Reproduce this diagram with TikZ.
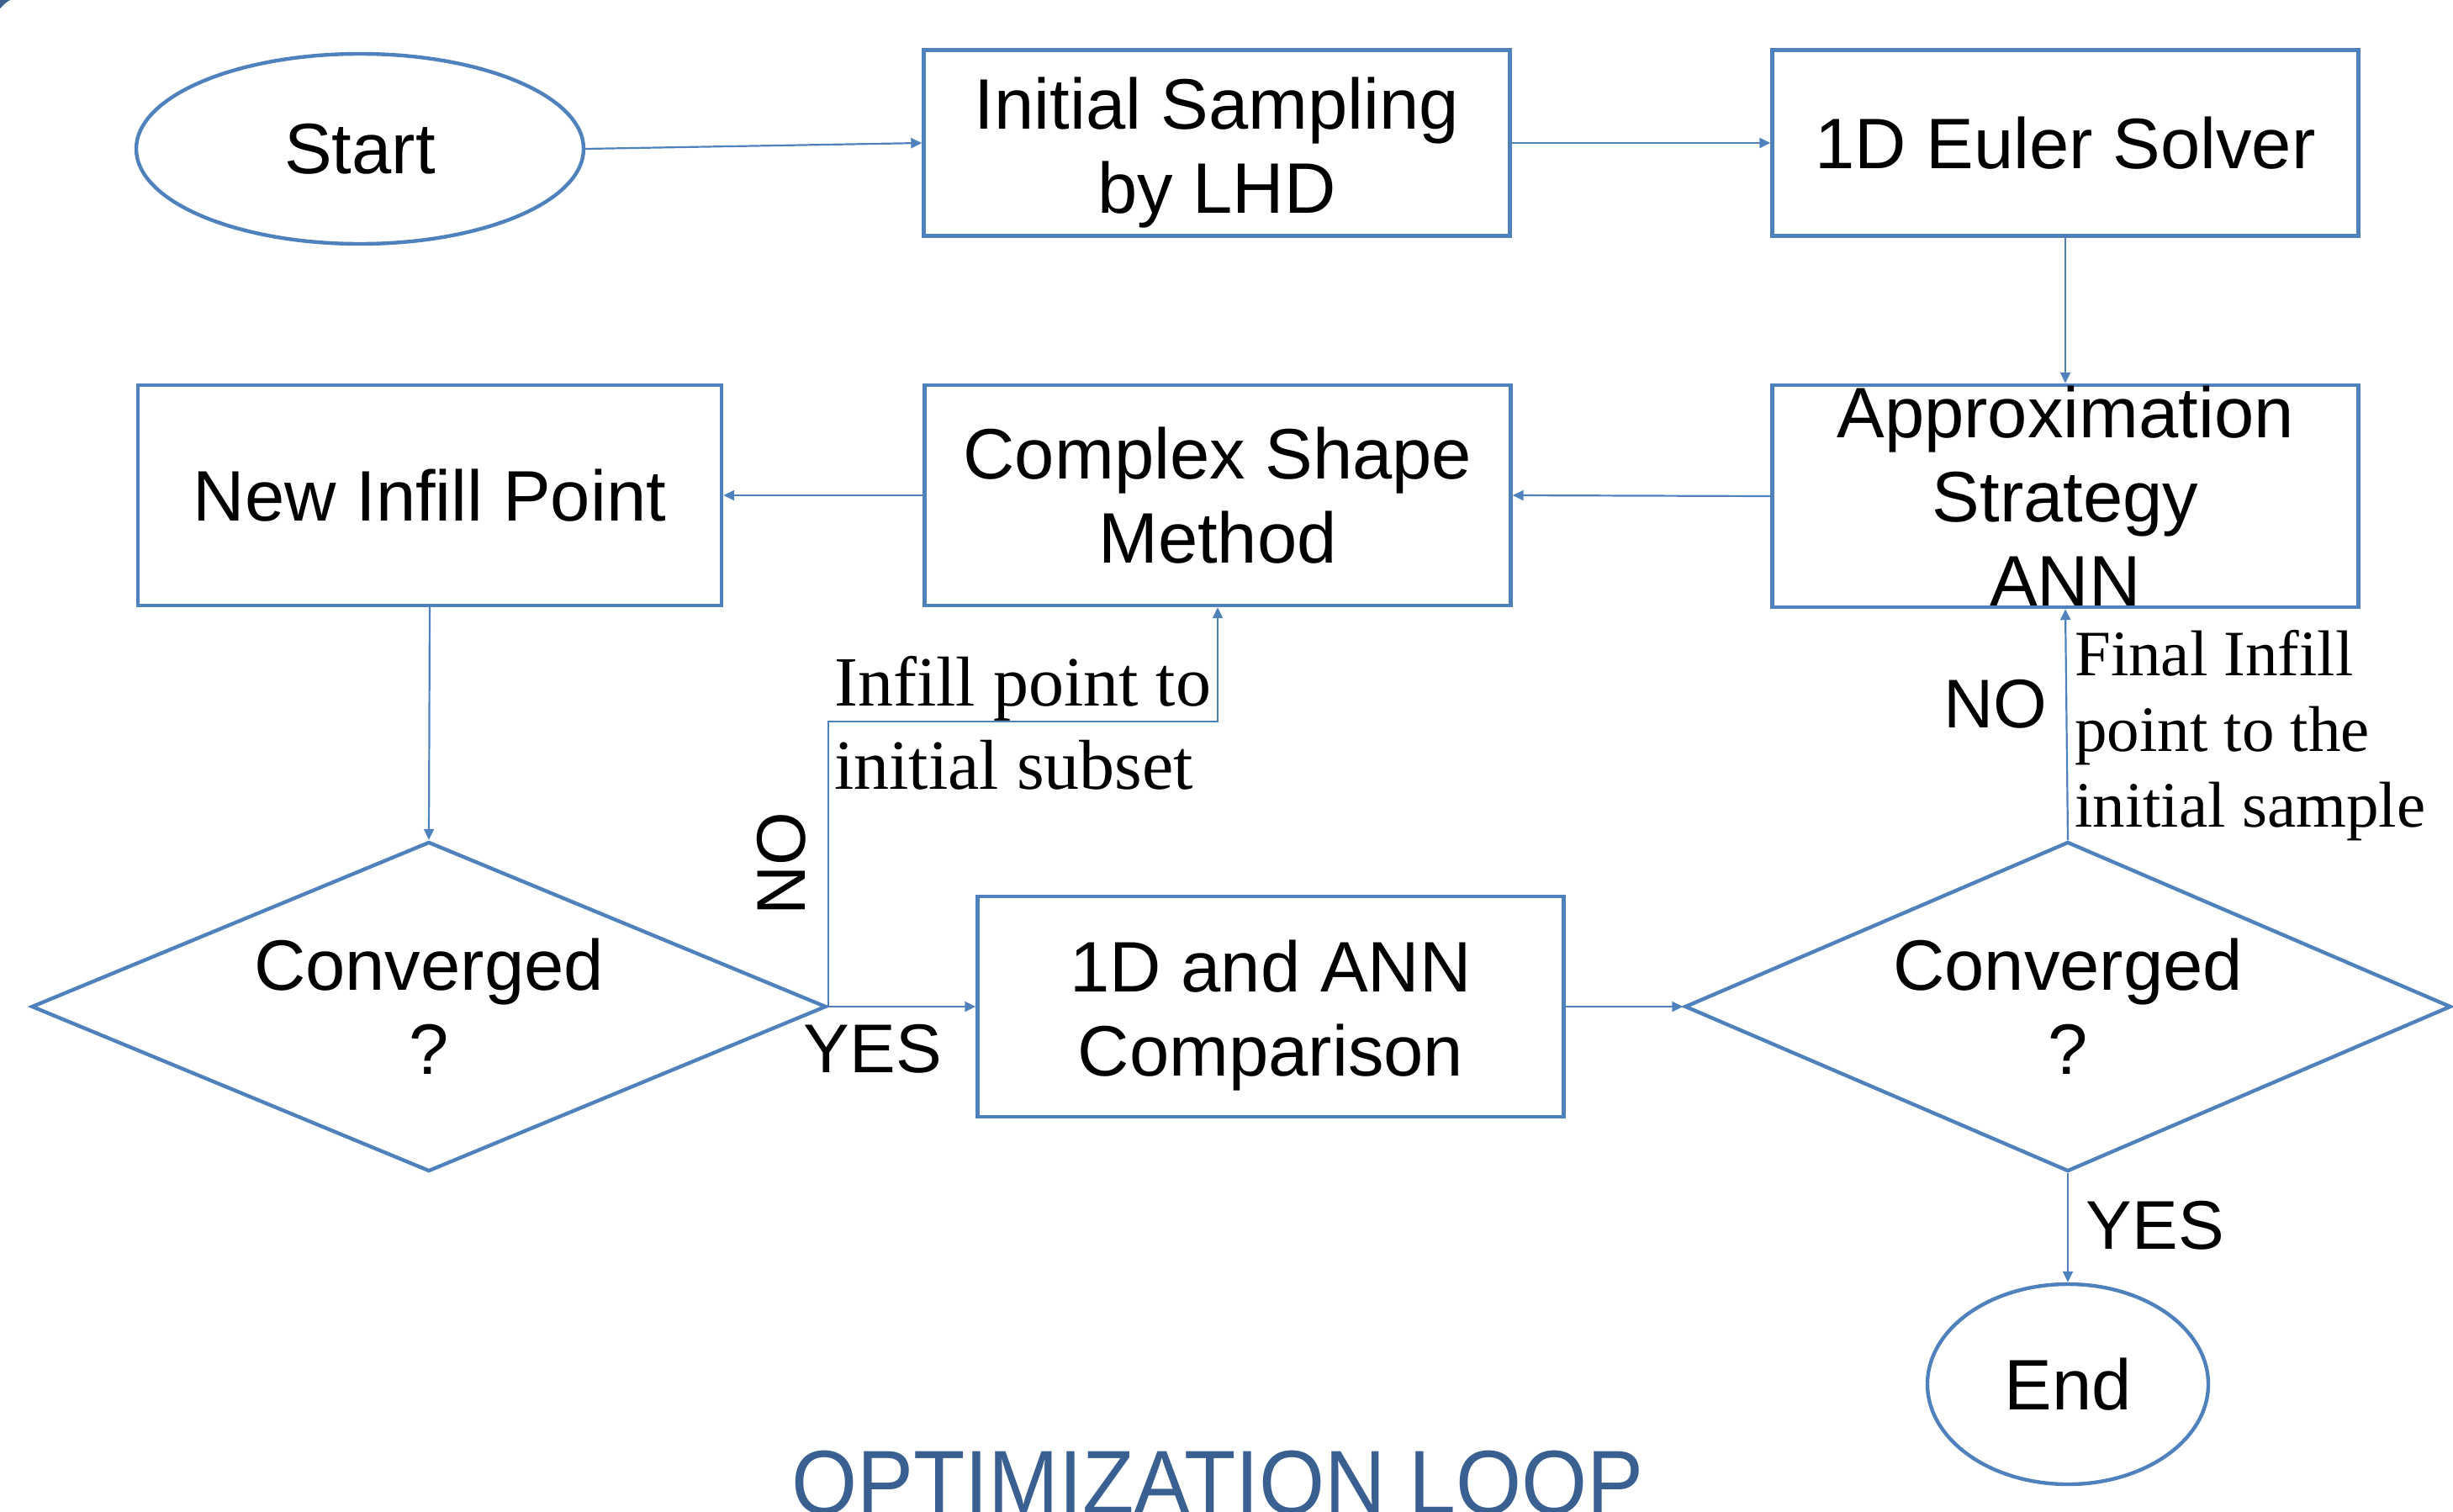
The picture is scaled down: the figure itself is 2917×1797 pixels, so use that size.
\documentclass[tikz,border=0pt]{standalone}
\usepackage{fontspec}
\setmainfont{Liberation Sans}
\newfontfamily\seriff{Liberation Serif}
\usetikzlibrary{shapes.geometric,arrows.meta}
\definecolor{edge}{RGB}{79,129,189}
\definecolor{titleblue}{RGB}{58,95,145}

\begin{document}
\begin{tikzpicture}[x=1pt,y=-1pt,
  frame/.style={draw=edge, line width=4.4pt, inner sep=0pt},
  stepbox/.style={frame, rectangle, minimum width=697pt, minimum height=221pt},
  oval/.style={frame, ellipse},
  decision/.style={frame, diamond, minimum width=945pt, minimum height=392pt},
  txt/.style={font=\fontsize{85}{100}\selectfont, align=center, inner sep=0pt},
  tag/.style={font=\fontsize{82}{96}\selectfont, inner sep=0pt},
  note/.style={font=\seriff\fontsize{84}{99}\selectfont, align=left, inner sep=0pt},
  noteb/.style={font=\seriff\fontsize{77}{90}\selectfont, align=left, inner sep=0pt},
  flow/.style={draw=edge, line width=2.2pt, -{Triangle[length=13pt,width=12pt]}}
]
\useasboundingbox (0,0) rectangle (2917,1797);
\clip (0,0) rectangle (2917,1797);

% corner fragment
\fill[titleblue] (0,0) -- (12,0) .. controls (7,3) .. (0,10) -- cycle;

% shapes
\node[oval, minimum width=532pt, minimum height=226pt] (start) at (428,177) {};
\node[stepbox] (init) at (1447,170) {};
\node[stepbox] (euler) at (2456,170) {};
\node[stepbox, minimum height=264pt] (ann) at (2456,590) {};
\node[stepbox, minimum height=262pt] (cs) at (1448,589) {};
\node[stepbox, minimum width=694pt, minimum height=262pt] (nip) at (511,589) {};
\node[decision] (d1) at (510,1197) {};
\node[stepbox, minimum height=262pt] (cmp) at (1511,1197) {};
\node[decision, minimum width=911pt] (d2) at (2459,1197) {};
\node[oval, minimum width=334pt, minimum height=238pt] (end) at (2459,1646) {};

% texts inside the shapes
\node[txt] (start-t) at (start) {Start};
\node[txt] (init-t) at ([yshift=-12pt]init.center) {Initial Sampling\\by LHD};
\node[txt] (euler-t) at (euler) {1D Euler Solver};
\node[txt] (ann-t) at (ann) {Approximation\\Strategy\\ANN};
\node[txt] (cs-t) at (cs) {Complex Shape\\Method};
\node[txt] (nip-t) at (nip) {New Infill Point};
\node[txt] (d1-t) at (d1) {Converged\\?};
\node[txt] (cmp-t) at ([yshift=-11pt]cmp.center) {1D and ANN\\Comparison};
\node[txt] (d2-t) at (d2) {Converged\\?};
\node[txt] (end-t) at (end) {End};

% connectors
\draw[flow] (start.east) -- (init.west);
\draw[flow] (init.east) -- (euler.west);
\draw[flow] (euler.south) -- (ann.north);
\draw[flow] (ann.west) -- (cs.east);
\draw[flow] (cs.west) -- (nip.east);
\draw[flow] (nip.south) -- (d1.north);
\draw[flow] (d1.east) -- (cmp.west);
\path (cs.south) ++(0,136) coordinate (bend);
\draw[flow] (d1.east) |- (bend) -- (cs.south);
\draw[flow] (cmp.east) -- (d2.west);
\draw[flow] (d2.north) -- (ann.south);
\draw[flow] (d2.south) -- (end.north);

% branch labels
\node[tag] (yes1) at (1038,1247) {YES};
\node[tag, rotate=90] (no1) at (929,1027) {NO};
\node[tag] (no2) at (2373,837) {NO};
\node[tag] (yes2) at (2563,1457) {YES};
\node[note, anchor=base west] (n1) at (992,938) {Infill point to\\initial subset};
\node[noteb, anchor=base west] (n2) at (2467,983) {Final Infill\\point to the\\initial sample};

% title
\node[font=\fontsize{108}{120}\selectfont, text=titleblue, anchor=base, xscale=0.93, inner sep=0pt] (title) at (1448,1800) {OPTIMIZATION LOOP};
\end{tikzpicture}
\end{document}
